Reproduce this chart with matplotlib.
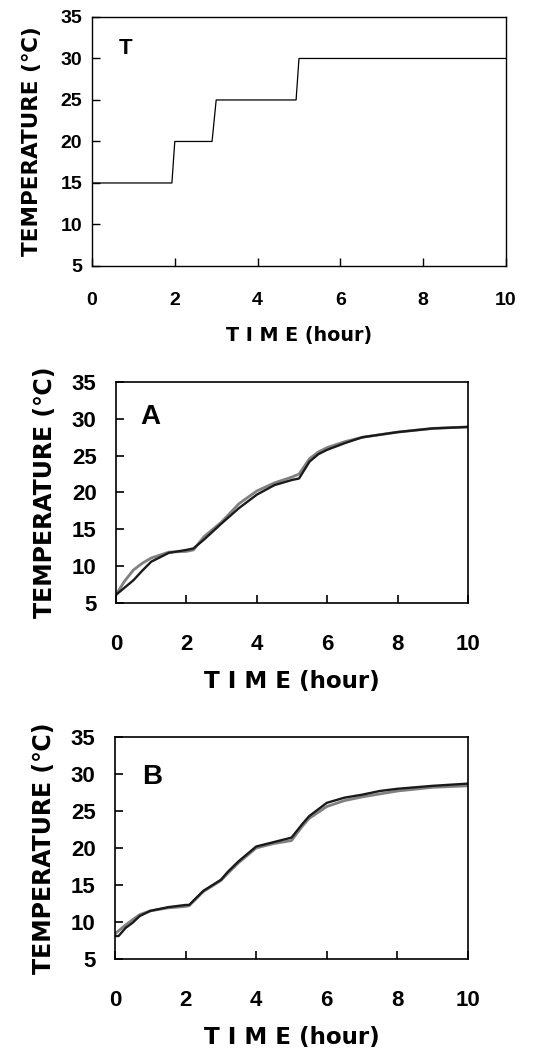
import matplotlib
matplotlib.use('Agg')
import matplotlib.pyplot as plt

# set temperature program (panel T)
t_time = [0, 1.93, 2.0, 2.9, 3.0, 4.93, 5.0, 10]
t_temp = [15, 15, 20, 20, 25, 25, 30, 30]

# panel A
a_time = [0, 0.25, 0.5, 0.75, 1.0, 1.5, 2.0, 2.2, 2.5, 3.0, 3.5, 4.0, 4.5, 5.0, 5.2, 5.5, 5.75, 6.0, 6.5, 7.0, 8.0, 9.0, 10.0]
a_black = [6.1, 7.1, 8.1, 9.4, 10.6, 11.8, 12.2, 12.4, 13.6, 15.8, 17.9, 19.7, 21.0, 21.7, 21.9, 24.2, 25.2, 25.8, 26.7, 27.5, 28.2, 28.7, 28.9]
a_gray = [6.1, 8.0, 9.5, 10.4, 11.1, 11.9, 12.0, 12.2, 14.0, 16.0, 18.5, 20.2, 21.3, 22.1, 22.5, 24.6, 25.5, 26.1, 26.9, 27.5, 28.2, 28.7, 28.9]

# panel B
b_time = [0, 0.1, 0.3, 0.5, 0.7, 1.0, 1.5, 2.0, 2.1, 2.5, 3.0, 3.2, 3.5, 4.0, 4.5, 5.0, 5.3, 5.5, 6.0, 6.5, 7.0, 7.5, 8.0, 9.0, 10.0]
b_black = [8.1, 8.1, 9.2, 9.9, 10.8, 11.5, 12.0, 12.3, 12.3, 14.2, 15.7, 16.8, 18.2, 20.2, 20.8, 21.4, 23.2, 24.3, 26.1, 26.8, 27.2, 27.7, 28.0, 28.4, 28.7]
b_gray = [8.4, 8.8, 9.6, 10.3, 11.0, 11.5, 11.9, 12.1, 12.2, 14.1, 15.6, 16.6, 18.0, 20.0, 20.6, 21.0, 22.9, 24.0, 25.6, 26.4, 26.9, 27.3, 27.7, 28.2, 28.4]

x_ticks = [0, 2, 4, 6, 8, 10]
y_ticks = [5, 10, 15, 20, 25, 30, 35]

tick_font = ['Liberation Sans', 'DejaVu Sans']
lab_font = ['DejaVu Sans']

fig = plt.figure(figsize=(5.33, 10.53), dpi=100)

ax_t = fig.add_axes([0.1726, 0.7474, 0.7767, 0.2365])
ax_a = fig.add_axes([0.2176, 0.4274, 0.6604, 0.2098])
ax_b = fig.add_axes([0.2158, 0.0893, 0.6622, 0.2108])


def style(ax, fs, xlab_fs, ylab_fs, xpad, ypad, xlp, ylp, lw):
    ax.set_xlim(0, 10)
    ax.set_ylim(5, 35)
    ax.set_xticks(x_ticks)
    ax.set_yticks(y_ticks)
    ax.tick_params(direction='in', length=6, width=lw, pad=xpad, axis='x')
    ax.tick_params(direction='in', length=6, width=lw, pad=ypad, axis='y')
    for s in ax.spines.values():
        s.set_linewidth(lw)
    for lab in ax.get_xticklabels() + ax.get_yticklabels():
        lab.set_family(tick_font)
        lab.set_fontweight('bold')
        lab.set_fontsize(fs)
    ax.set_xlabel('T I M E (hour)', family=lab_font, fontweight='bold', fontsize=xlab_fs, labelpad=xlp)
    ax.set_ylabel('TEMPERATURE (℃)', family=lab_font, fontweight='bold', fontsize=ylab_fs, labelpad=ylp)


# T
ax_t.plot(t_time, t_temp, color='black', lw=0.9)
style(ax_t, 14, 13.8, 15.5, 19, 7, 12, 13, 1.0)
ax_t.text(0.8, 31.2, 'T', family=tick_font, fontweight='bold', fontsize=16, ha='center', va='center')

# A
ax_a.plot(a_time, a_gray, color='#808080', lw=2.0)
ax_a.plot(a_time, a_black, color='#1a1a1a', lw=1.7)
style(ax_a, 16, 16.6, 17, 22, 14, 11, 11, 1.2)
ax_a.text(0.97, 30.2, 'A', family=tick_font, fontweight='bold', fontsize=20, ha='center', va='center')

# B
ax_b.plot(b_time, b_gray, color='#808080', lw=2.0)
ax_b.plot(b_time, b_black, color='#1a1a1a', lw=1.7)
style(ax_b, 16, 16.6, 17, 22, 14, 11, 11, 1.2)
ax_b.text(1.05, 29.6, 'B', family=tick_font, fontweight='bold', fontsize=20, ha='center', va='center')

plt.savefig('out.png', dpi=100)
